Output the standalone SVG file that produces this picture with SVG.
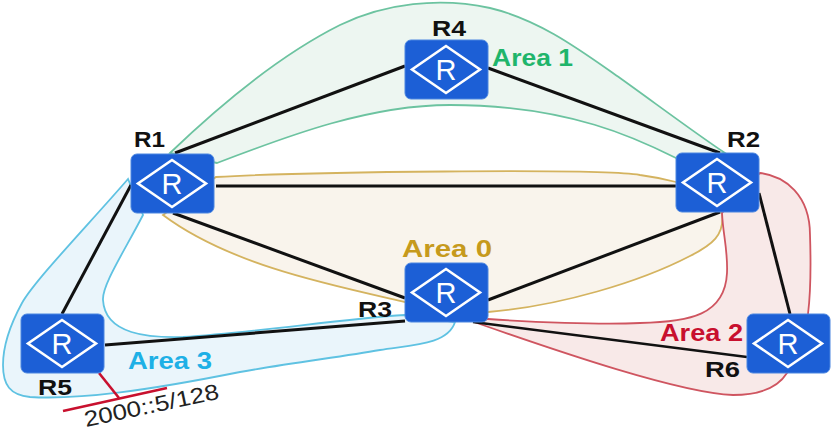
<svg xmlns="http://www.w3.org/2000/svg" width="831" height="431" viewBox="0 0 831 431">
<style>
.rb{fill:#1c5fd6;stroke:#4a86e0;stroke-width:1}
.rd{fill:none;stroke:#fff;stroke-width:2.6}
.rt{font-family:"Liberation Sans",Arial,sans-serif;font-size:29px;fill:#fff;text-anchor:middle}
.lb{font-family:"Liberation Sans",Arial,sans-serif;font-size:22px;font-weight:bold;fill:#111}
.ar{font-family:"Liberation Sans",Arial,sans-serif;font-size:23px;font-weight:bold}
.ln{stroke:#111;stroke-width:3;fill:none}
.red{stroke:#c8102e;stroke-width:2.6;fill:none}
</style>
<defs>
<g id="router">
<rect class="rb" x="0" y="0" width="83" height="59" rx="6"/>
<path class="rd" d="M41 6 L75 29.500 L41 53 L7 29.500 Z"/>
<text class="rt" x="41" y="40">R</text>
</g>
</defs>
<g id="areas" stroke-width="1.800">
<path id="area1" fill="#edf6f1" stroke="#6cc3a0" d="M170 153 C220 105 280 55 340 25 C385 3 440 -3 490 8 C540 20 580 50 620 78 C655 103 695 133 725 153 L676 158 C640 140 570 105 450 105 C370 105 290 135 217 163 Z"/>
<path id="area0" fill="#f9f4ec" stroke="#d4b35f" d="M216 177 C300 172 600 168 640 175 C655 177 668 180 676 182 L722 213 C725 235 712 245 690 256 C640 282 560 306 488 312 L405 302 C330 285 230 265 163 215 Z"/>
<path id="area2" fill="#f8e9e8" stroke="#cf5560" d="M760 173 C785 176 810 195 810 235 C811 265 811 290 808 314 L787 373 C775 392 750 395 733 395 C680 393 560 352 477 323 L488 319 C530 322 600 325 640 323 C690 322 725 315 727 273 C728 250 723 235 722 213 Z"/>
<path id="area3" fill="#eaf5fb" stroke="#5fc2e2" d="M128 179 C90 223 35 280 22 303 C10 325 3 345 3 365 C3 385 10 395 30 397 C80 400 150 390 240 372 C290 363 340 357 380 350 C410 345 448 345 455 322 L405 315 C340 319 260 332 183 337 C150 338 105 335 103 300 C102 285 125 250 143 215 Z"/>
</g>
<g id="connectors">
<path class="ln" d="M175 153 L405 66"/>
<path class="ln" d="M488 68 L720 153"/>
<path class="ln" d="M216 186 L676 186"/>
<path class="ln" d="M173 213 L405 298"/>
<path class="ln" d="M488 300 L720 212"/>
<path class="ln" d="M759 193 L790 314"/>
<path class="ln" d="M131 185 L62 314"/>
<path class="ln" d="M105 345 L405 321"/>
<path class="ln" style="stroke-width:2.500" d="M473 322 L747 357"/>
<path class="red" d="M99 373 L119 398"/>
<path class="red" d="M63 411 L167 388"/>
</g>
<g id="R1"><use href="#router" x="131" y="154"/><text class="lb" x="134" y="147" textLength="31" lengthAdjust="spacingAndGlyphs">R1</text></g>
<g id="R4"><use href="#router" x="405" y="40"/><text class="lb" x="432" y="36" textLength="34" lengthAdjust="spacingAndGlyphs">R4</text></g>
<g id="R2"><use href="#router" x="676" y="153"/><text class="lb" x="727" y="147" textLength="33" lengthAdjust="spacingAndGlyphs">R2</text></g>
<g id="R3"><use href="#router" x="405" y="263"/><text class="lb" x="358" y="317" textLength="34" lengthAdjust="spacingAndGlyphs">R3</text></g>
<g id="R5"><use href="#router" x="21" y="314"/><text class="lb" x="38" y="395" textLength="34" lengthAdjust="spacingAndGlyphs">R5</text></g>
<g id="R6"><use href="#router" x="747" y="314"/><text class="lb" x="705" y="377" textLength="35" lengthAdjust="spacingAndGlyphs">R6</text></g>
<g id="labels">
<text class="ar" x="492" y="66" fill="#1fb56b" textLength="81" lengthAdjust="spacingAndGlyphs">Area 1</text>
<text class="ar" x="402" y="257" fill="#c69a1c" textLength="90" lengthAdjust="spacingAndGlyphs">Area 0</text>
<text class="ar" x="660" y="341" fill="#c8102e" textLength="83" lengthAdjust="spacingAndGlyphs">Area 2</text>
<text class="ar" x="128" y="369" fill="#1eb0e6" textLength="84" lengthAdjust="spacingAndGlyphs">Area 3</text>
<text x="86" y="427" transform="rotate(-12 86 427)" font-family="'Liberation Sans',sans-serif" font-size="22" fill="#222" textLength="137" lengthAdjust="spacingAndGlyphs">2000::5/128</text>
</g>
</svg>
